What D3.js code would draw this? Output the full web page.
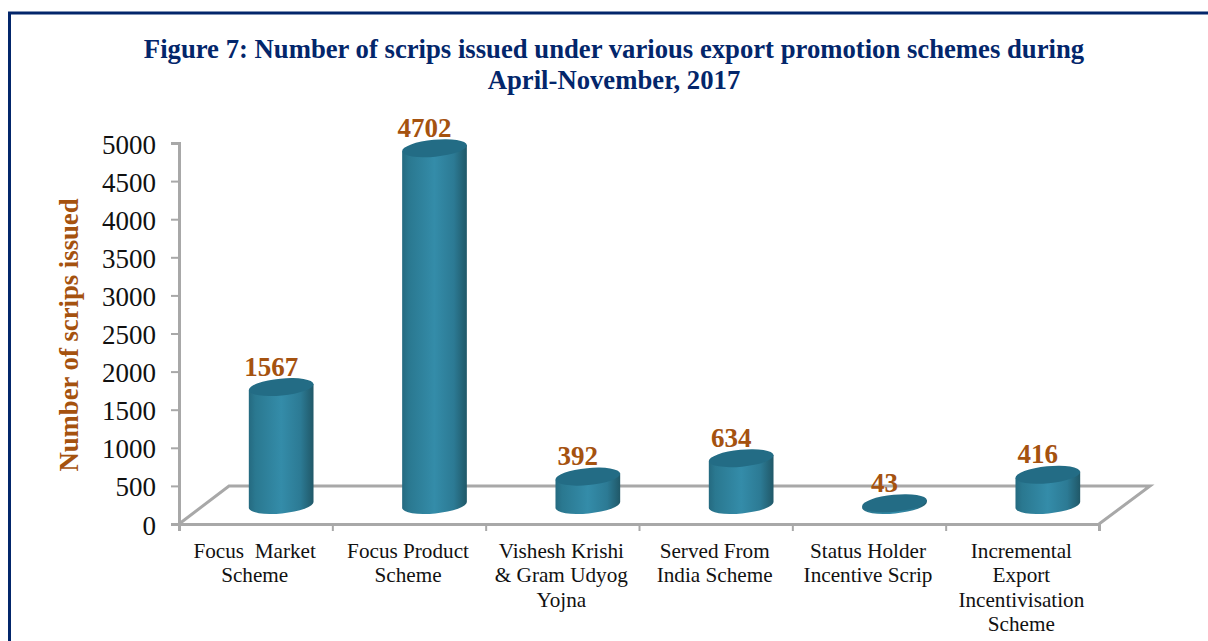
<!DOCTYPE html>
<html><head><meta charset="utf-8">
<script src="https://cdn.jsdelivr.net/npm/d3@7"></script>
<style>html,body{margin:0;padding:0;background:#fff}svg{display:block}text{font-family:"Liberation Serif",serif}</style>
</head><body><svg id="c" width="1208" height="641"></svg>
<script>
const titleLines = ["Figure 7: Number of scrips issued under various export promotion schemes during", "April-November, 2017"];
const yAxisTitle = "Number of scrips issued";
const categories = ["Focus  Market\nScheme", "Focus Product\nScheme", "Vishesh Krishi\n& Gram Udyog\nYojna", "Served From\nIndia Scheme", "Status Holder\nIncentive Scrip", "Incremental\nExport\nIncentivisation\nScheme"];
const values = [1567, 4702, 392, 634, 43, 416];
const yTicks = [0, 500, 1000, 1500, 2000, 2500, 3000, 3500, 4000, 4500, 5000];

const svg = d3.select("#c");
const navy = "#03266b", brown = "#a5520f", gray = "#a8a8a8";
const plotL = 179, plotR = 1099, plotT = 143, plotB = 524, dx = 51, dy = 38;
const x = d3.scaleBand().domain(categories).range([plotL, plotR]);
const y = d3.scaleLinear().domain([0, 5000]).range([plotB, plotT]);

// frame
svg.append("path").attr("d", "M9.5 641V13H1208").attr("fill", "none").attr("stroke", navy).attr("stroke-width", 3);

// title
svg.append("g").selectAll("text").data(titleLines).join("text")
  .attr("x", 614).attr("y", (d, i) => 58 + i * 31).attr("text-anchor", "middle")
  .attr("font-size", 26.7).attr("font-weight", "bold").attr("fill", navy).text(d => d);

// gradient
const defs = svg.append("defs");
const g = defs.append("linearGradient").attr("id", "side");
[[0, "#256a80"], [0.1, "#2a7890"], [0.5, "#348ca9"], [0.8, "#2c7a94"], [1, "#205868"]]
  .forEach(s => g.append("stop").attr("offset", s[0]).attr("stop-color", s[1]));

// floor
svg.append("path")
  .attr("d", `M${plotL} ${plotB}L${plotL + dx - 1} ${plotB - dy}H${plotR + dx}L${plotR} ${plotB}`)
  .attr("fill", "none").attr("stroke", gray).attr("stroke-width", 3).attr("stroke-linejoin", "miter");

// axes
const ya = svg.append("g").attr("transform", `translate(${plotL},0)`)
  .call(d3.axisLeft(y).tickValues(yTicks).tickSize(8).tickPadding(15).tickFormat(d3.format("d")));
ya.selectAll("text").attr("font-size", 27).attr("fill", "#111").attr("dy", "0.37em");
const xa = svg.append("g").attr("transform", `translate(0,${plotB})`)
  .call(d3.axisBottom(d3.scalePoint().domain(d3.range(7)).range([plotL, plotR])).tickSize(7).tickFormat(""));
[ya, xa].forEach(a => { a.selectAll("line").attr("stroke", gray).attr("stroke-width", 2); a.select(".domain").attr("stroke", gray).attr("stroke-width", 3); });

// x labels
svg.append("g").selectAll("g").data(categories).join("g")
  .attr("transform", d => `translate(${x(d) + x.bandwidth() / 2 - 1},0)`)
  .selectAll("text").data(d => d.split("\n")).join("text")
  .attr("y", (d, i) => 558 + i * 24.3).attr("text-anchor", "middle")
  .attr("font-size", 21.2).attr("fill", "#111").style("white-space", "pre").text(d => d);

// y title
svg.append("text").attr("transform", "translate(78,335) rotate(-90)").attr("text-anchor", "middle")
  .attr("font-size", 26.7).attr("font-weight", "bold").attr("fill", brown).text(yAxisTitle);

// cylinders
const rx = 32.5, ry = 8.5, tilt = 5.5, sinT = Math.sin(tilt * Math.PI / 180) * rx, cosT = Math.cos(tilt * Math.PI / 180) * rx;
const bars = svg.append("g").selectAll("g").data(categories.map((c, i) => ({ c, v: values[i] }))).join("g")
  .attr("transform", d => `translate(${x(d.c) + x.bandwidth() / 2 + dx / 2},0)`);
const baseY = plotB - dy / 2;
bars.append("path").attr("fill", "url(#side)")
  .attr("d", d => {
    const t = y(d.v) - dy / 2 + 1.5;
    return `M${-cosT} ${t + sinT}V${baseY + sinT}A${rx} ${ry} ${-tilt} 0 0 ${cosT} ${baseY - sinT}V${t - sinT}Z`;
  });
bars.append("ellipse").attr("rx", rx).attr("ry", ry).attr("fill", "#236c85")
  .attr("transform", d => `translate(0,${y(d.v) - dy / 2 + 1.5}) rotate(${-tilt})`);
bars.append("text").attr("x", -10).attr("y", d => y(d.v) - dy / 2 - 10)
  .attr("text-anchor", "middle").attr("font-size", 27).attr("font-weight", "bold").attr("fill", brown).text(d => d.v);
</script></body></html>
